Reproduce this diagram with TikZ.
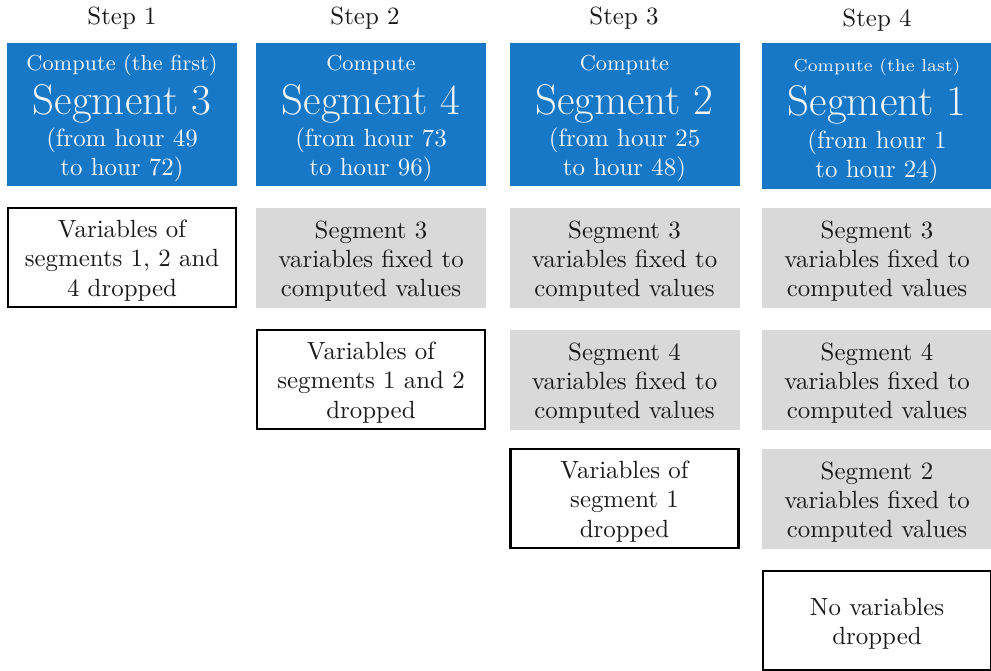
\documentclass[tikz,border=0pt]{standalone}
\usetikzlibrary{positioning}
\definecolor{segblue}{HTML}{1778C8}
\definecolor{fixgray}{HTML}{D9D9D9}
\definecolor{ltwhite}{HTML}{F2F4F8}
\definecolor{inkblack}{HTML}{1A1A1A}
\newcommand{\bodysize}{\fontsize{9.85}{11.5}\selectfont\lineskiplimit=-30pt\relax}
\newcommand{\topline}{\rule{0pt}{9.4pt}}

\begin{document}
\begin{tikzpicture}[
  x=0.396pt, y=-0.396pt,
  segbox/.style={
    fill=segblue, text=ltwhite, minimum width=91.08pt, minimum height=56.63pt,
    align=center, inner sep=0pt, font=\bodysize
  },
  fixbox/.style={
    fill=fixgray, text=inkblack, minimum width=91.08pt, minimum height=39.6pt,
    align=center, inner sep=0pt, font=\bodysize
  },
  dropbox/.style={
    draw=black, line width=1pt, fill=white, text=inkblack,
    minimum width=90.3pt, minimum height=39.2pt,
    align=center, inner sep=0pt, font=\bodysize
  },
  steplab/.style={font=\bodysize, text=inkblack, inner sep=0pt},
]

% frame of the page
\useasboundingbox (0,0) rectangle (991,670);

% =============================================
% Step headings
% =============================================
\node[steplab] (step1) at (122,18.5) {Step 1};
\node[steplab] (step2) at (365,18.5) {Step 2};
\node[steplab] (step3) at (624,18.5) {Step 3};
\node[steplab] (step4) at (877,20.5) {Step 4};

% =============================================
% Segments computed in each step
% =============================================
\node[segbox] (seg3) at (122,114.5)
  {{\fontsize{8.6}{10}\selectfont\rule{0pt}{9.2pt}Compute (the first)}\\[5.9pt]
   {\fontsize{17}{20}\selectfont Segment 3}\\[1.2pt]
   (from hour 49\\ to hour 72)};

\node[segbox] (seg4) at (371,114.5)
  {{\fontsize{8.6}{10}\selectfont\rule{0pt}{9.2pt}Compute}\\[5.9pt]
   {\fontsize{17}{20}\selectfont Segment 4}\\[1.2pt]
   (from hour 73\\ to hour 96)};

\node[segbox] (seg2) at (624.5,114.5)
  {{\fontsize{8.6}{10}\selectfont\rule{0pt}{9.2pt}Compute}\\[5.9pt]
   {\fontsize{17}{20}\selectfont Segment 2}\\[1.2pt]
   (from hour 25\\ to hour 48)};

\node[segbox, minimum height=57.8pt] (seg1) at (877,116)
  {{\fontsize{6.9}{8.5}\selectfont\rule{0pt}{9.2pt}Compute (the last)}\\[5.9pt]
   {\fontsize{17}{20}\selectfont Segment 1}\\[1.2pt]
   (from hour 1\\ to hour 24)};

% =============================================
% Step 1
% =============================================
\node[dropbox] (drop1) at (122,257.5)
  {\topline Variables of\\ segments 1, 2 and\\ 4 dropped};

% =============================================
% Step 2
% =============================================
\node[fixbox] (fix23) at (371,258)
  {\topline Segment 3\\ variables fixed to\\ computed values};
\node[dropbox] (drop2) at (371,379.5)
  {\topline Variables of\\ segments 1 and 2\\ dropped};

% =============================================
% Step 3
% =============================================
\node[fixbox] (fix33) at (624.5,258)
  {\topline Segment 3\\ variables fixed to\\ computed values};
\node[fixbox] (fix34) at (624.5,380)
  {\topline Segment 4\\ variables fixed to\\ computed values};
\node[dropbox] (drop3) at (624.5,498.5)
  {\topline Variables of\\ segment 1\\ dropped};

% =============================================
% Step 4
% =============================================
\node[fixbox] (fix43) at (877,258)
  {\topline Segment 3\\ variables fixed to\\ computed values};
\node[fixbox] (fix44) at (877,380)
  {\topline Segment 4\\ variables fixed to\\ computed values};
\node[fixbox] (fix42) at (877,499)
  {\topline Segment 2\\ variables fixed to\\ computed values};
\node[dropbox] (drop4) at (877,620.5)
  {\topline No variables\\ dropped};

\end{tikzpicture}
\end{document}
